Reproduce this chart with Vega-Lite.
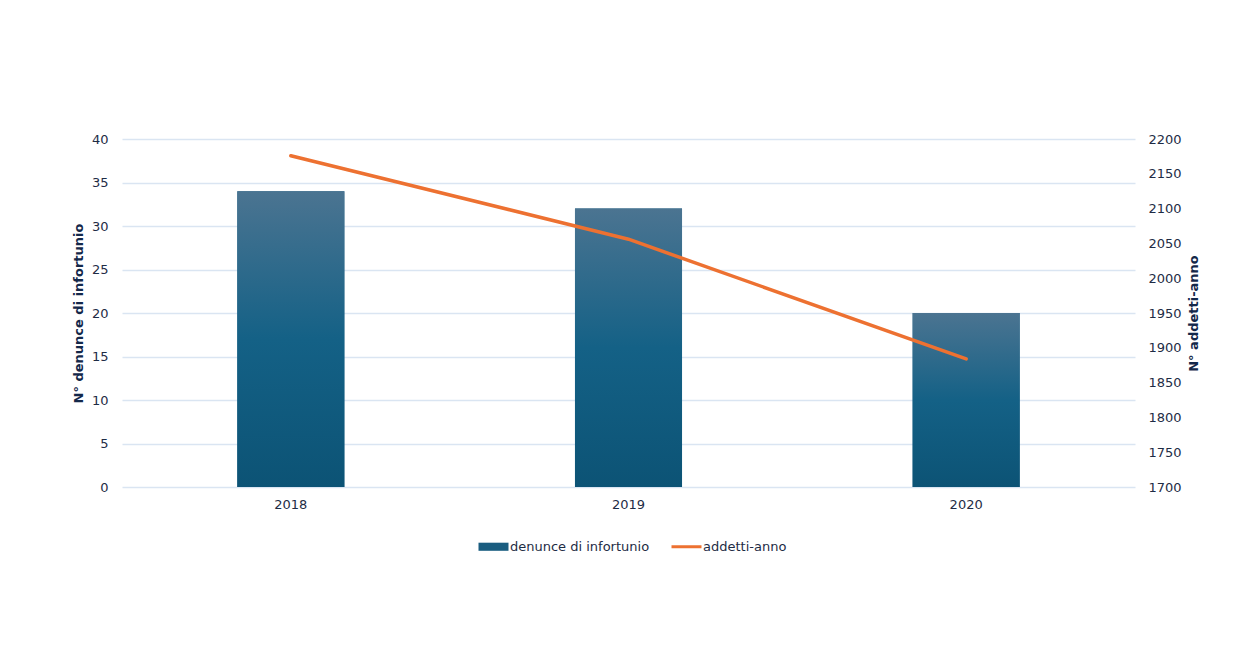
{
  "$schema": "https://vega.github.io/schema/vega-lite/v6.json",
  "width": 1013,
  "height": 348,
  "autosize": {"type": "none"},
  "padding": {"left": 122, "top": 139, "right": 111, "bottom": 163},
  "background": "white",
  "data": {"values": [
    {"anno": "2018", "denunce": 34, "addetti": 2176},
    {"anno": "2019", "denunce": 32, "addetti": 2056},
    {"anno": "2020", "denunce": 20, "addetti": 1884}
  ]},
  "config": {
    "view": {"stroke": null},
    "font": "DejaVu Sans",
    "axis": {
      "domain": false,
      "ticks": false,
      "labelFont": "DejaVu Sans",
      "labelFontSize": 13,
      "labelColor": "#1e2c45",
      "titleFont": "DejaVu Sans",
      "titleFontSize": 13,
      "titleFontWeight": "bold",
      "titleColor": "#14284a",
      "gridColor": "#dae5f2",
      "gridWidth": 1.5
    },
    "legend": {
      "labelFont": "DejaVu Sans",
      "labelFontSize": 13,
      "labelColor": "#1e2c45"
    }
  },
  "encoding": {
    "x": {
      "field": "anno",
      "type": "nominal",
      "scale": {"paddingInner": 0.683, "paddingOuter": 0.3415},
      "axis": {"title": null, "labelAngle": 0, "labelPadding": 11, "grid": false}
    }
  },
  "layer": [
    {
      "encoding": {
        "y": {
          "field": "denunce",
          "type": "quantitative",
          "scale": {"domain": [0, 40], "nice": false},
          "axis": {
            "title": "N° denunce di infortunio",
            "values": [0, 5, 10, 15, 20, 25, 30, 35, 40],
            "format": "d",
            "labelPadding": 14,
            "titlePadding": 6,
            "grid": true
          }
        }
      },
      "layer": [
        {
          "mark": {"type": "bar"},
          "encoding": {
            "color": {
              "datum": "denunce di infortunio",
              "type": "nominal",
              "scale": {
                "domain": ["denunce di infortunio", "addetti-anno"],
                "range": ["#1a5d80", "#ed7131"]
              },
              "legend": {
                "title": null,
                "orient": "none",
                "direction": "horizontal",
                "legendX": 365,
                "legendY": 401,
                "symbolSize": 900,
                "labelOffset": 10,
                "columnPadding": 15,
                "encode": {
                  "symbols": {
                    "update": {
                      "shape": {"signal": "datum.value === 'addetti-anno' ? 'M-1,0H1' : 'M-1,-0.27H1V0.27H-1Z'"},
                      "fill": {"signal": "datum.value === 'addetti-anno' ? 'transparent' : '#1a5d80'"},
                      "stroke": {"signal": "datum.value === 'addetti-anno' ? '#ed7131' : 'transparent'"},
                      "strokeWidth": {"signal": "datum.value === 'addetti-anno' ? 3 : 0"},
                      "opacity": {"value": 1},
                      "fillOpacity": {"value": 1},
                      "strokeOpacity": {"value": 1}
                    }
                  }
                }
              }
            }
          }
        },
        {
          "mark": {
            "type": "bar",
            "fill": {
              "gradient": "linear",
              "x1": 0, "y1": 0, "x2": 0, "y2": 1,
              "stops": [
                {"offset": 0, "color": "#4b7491"},
                {"offset": 0.5, "color": "#146186"},
                {"offset": 1, "color": "#0c5375"}
              ]
            }
          },
          "encoding": {}
        }
      ]
    },
    {
      "mark": {"type": "line", "strokeWidth": 3.5, "strokeCap": "round"},
      "encoding": {
        "y": {
          "field": "addetti",
          "type": "quantitative",
          "scale": {"domain": [1700, 2200], "nice": false},
          "axis": {
            "orient": "right",
            "title": "N° addetti-anno",
            "titleAngle": 270,
            "titleBaseline": "top",
            "values": [1700, 1750, 1800, 1850, 1900, 1950, 2000, 2050, 2100, 2150, 2200],
            "format": "d",
            "labelPadding": 13,
            "titlePadding": 6,
            "grid": false
          }
        },
        "color": {"datum": "addetti-anno", "type": "nominal"}
      }
    }
  ],
  "resolve": {"scale": {"y": "independent"}}
}
